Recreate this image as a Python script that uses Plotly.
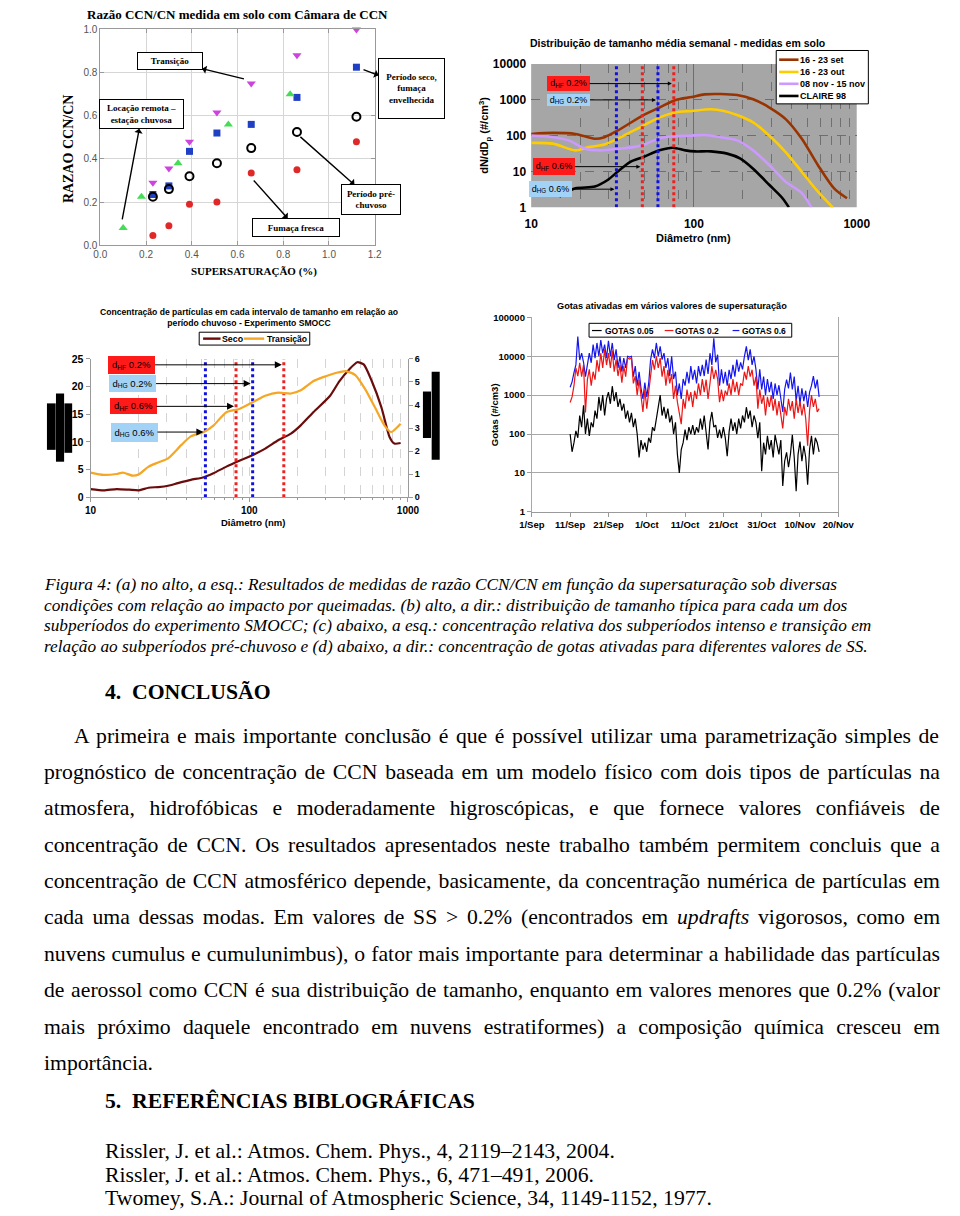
import json
import numpy as np
import pandas as pd
import plotly.graph_objects as go

W, H = 960, 1216
def px(x): return x / W
def py(y): return 1 - y / H

SANS = "Liberation Sans"
SERIF = "Liberation Serif"

# ---------------- (a) CCN/CN ratio vs supersaturation ----------------
ss_transicao = [0.23, 0.30, 0.39, 0.51, 0.66, 0.86, 1.12]
ratio_transicao = [0.29, 0.355, 0.48, 0.615, 0.75, 0.88, 1.0]
ss_seco = [0.23, 0.30, 0.39, 0.51, 0.66, 0.86, 1.12]
ratio_seco = [0.235, 0.275, 0.435, 0.52, 0.56, 0.685, 0.825]
ss_remota = [0.10, 0.18, 0.34, 0.56, 0.83]
ratio_remota = [0.08, 0.225, 0.38, 0.56, 0.70]
ss_prechuvoso = [0.23, 0.30, 0.39, 0.51, 0.66, 0.86, 1.12]
ratio_prechuvoso = [0.225, 0.26, 0.32, 0.38, 0.45, 0.525, 0.595]
ss_fresca = [0.23, 0.30, 0.39, 0.51, 0.66, 0.86, 1.12]
ratio_fresca = [0.045, 0.09, 0.19, 0.20, 0.335, 0.35, 0.48]
a_ticks = [0.0, 0.2, 0.4, 0.6, 0.8, 1.0, 1.2]

# ---------------- (b) weekly mean size distributions ----------------
diam_set = [10, 13.6, 18.7, 24.6, 28.2, 33.9, 48.9, 61.4, 77.3, 97, 116, 146, 184, 231, 291, 366, 460, 578, 726, 871]
dn_set = [112, 120, 112, 82, 91, 138, 376, 611, 995, 1200, 1425, 1455, 1366, 1040, 611, 291, 82, 15, 3.4, 1.8]
diam_out = [10, 13.6, 18.7, 22.5, 28.2, 33.9, 48.9, 61.4, 77, 97, 127, 153, 184, 231, 291, 366, 460, 578, 713]
dn_out = [63, 60, 39, 48, 57, 82, 190, 325, 445, 490, 545, 490, 376, 234, 100, 35, 9.8, 2.75, 1.0]
diam_nov = [10, 13.6, 17, 21.5, 26.9, 33.9, 42.6, 51.2, 61.4, 74, 93, 116, 146, 184, 231, 291, 366, 460, 527]
dn_nov = [101, 91, 74, 43, 39, 43, 48, 60, 85, 97, 100, 105, 91, 74, 39, 15, 5.2, 2.5, 1.0]
diam_claire = [14.9, 18.7, 24.6, 29.5, 33.9, 40.7, 48.9, 61.4, 74, 88.6, 101.5, 127, 160, 193, 231, 291, 350, 383]
dn_claire = [2.0, 3.4, 3.8, 5.8, 9.8, 18.6, 25.5, 39, 46, 39, 36.5, 36.5, 31.6, 23, 12, 4.2, 1.8, 1.0]
b_dHG = [33.4, 60.1]   # 0.6 %, 0.2 %
b_dHF = [48.2, 75.2]   # 0.6 %, 0.2 %
b_xticks = [10, 100, 1000]
b_yticks = [1, 10, 100, 1000, 10000]

# ---------------- (c) relative concentration SMOCC ----------------
seco_diam = [10, 12.1, 14.6, 17.5, 20.2, 23.2, 26.7, 30.8, 35.5, 42.8, 51.7, 59.4, 71.7, 86.6, 104.5,
             126, 152, 183, 211, 254, 322, 370, 426, 479, 526, 591, 680, 765, 821, 899]
seco_val = [1.49, 1.25, 1.49, 1.37, 1.25, 1.73, 1.85, 2.08, 2.56, 3.15, 3.63, 4.35, 5.54, 6.6, 7.6,
            8.8, 10.3, 11.5, 13.0, 15.4, 18.3, 21.0, 23.1, 24.4, 24.0, 21.0, 16.25, 10.9, 9.7, 9.8]
trans_diam = [10, 12.1, 14.6, 16.0, 18.4, 20.2, 23.2, 26.7, 30.8, 37.2, 42.8, 51.7, 59.4, 71.7, 86.6,
              104.5, 126, 152, 183, 211, 254, 292, 355, 405, 466, 537, 619, 712, 783, 899]
trans_val = [1.07, 0.97, 1.01, 1.07, 0.94, 1.0, 1.33, 1.51, 1.69, 2.26, 2.64, 2.83, 3.11, 3.69, 3.83,
             4.11, 4.4, 4.54, 4.5, 4.64, 5.04, 5.21, 5.4, 5.47, 5.3, 4.69, 3.9, 3.11, 2.83, 3.19]
c_dHG = [52.9, 105]
c_dHF = [82.5, 165]
c_yticks_left = [0, 5, 10, 15, 20, 25]
c_yticks_right = [0, 1, 2, 3, 4, 5, 6]

# ---------------- (d) activated droplets time series ----------------
gotas_dates = pd.date_range("2002-09-11", "2002-11-15", freq="12h")
gotas_005 = [
    100, 35, 60, 120, 80, 300, 150, 550, 100, 250,
    90, 200, 150, 400, 250, 900, 400, 1000, 300, 800,
    1200, 600, 1700, 700, 1200, 500, 800, 400, 600, 250,
    400, 200, 350, 150, 250, 100, 25, 70, 40, 60,
    35, 80, 60, 150, 120, 250, 400, 1000, 300, 500,
    250, 450, 200, 300, 100, 200, 30, 10, 40, 60,
    130, 70, 150, 100, 170, 95, 150, 110, 250, 130,
    300, 120, 40, 200, 370, 150, 170, 80, 130, 78,
    150, 80, 27, 115, 250, 120, 200, 100, 250, 140,
    300, 200, 490, 250, 400, 150, 300, 200, 78, 200,
    11, 60, 30, 90, 40, 70, 25, 95, 50, 30,
    70, 4.6, 20, 34, 14, 30, 95, 25, 3.4, 30,
    64, 20, 50, 25, 5, 40, 90, 30, 80, 60,
    35]
gotas_02 = [
    650, 900, 1750, 5000, 3100, 6800, 3000, 6000, 360, 2500,
    4600, 1750, 4000, 2500, 8000, 4000, 12000, 5000, 15000, 6000,
    12000, 5000, 14000, 4000, 8200, 3100, 6000, 2100, 5600, 3000,
    9000, 8500, 9000, 2000, 3100, 1000, 2500, 900, 370, 1400,
    450, 1200, 3800, 8000, 4500, 10000, 5000, 9000, 3000, 5600,
    1750, 4500, 2000, 3500, 800, 1750, 660, 300, 180, 800,
    450, 1400, 700, 1200, 500, 1300, 800, 2000, 1000, 2600,
    1200, 2500, 800, 2000, 5600, 2600, 4500, 2600, 660, 1400,
    700, 1300, 1000, 2000, 1000, 2600, 1200, 2200, 1000, 2000,
    1750, 4000, 2500, 5600, 3000, 4500, 1750, 3000, 450, 1400,
    600, 1000, 300, 900, 500, 1000, 400, 800, 300, 700,
    350, 140, 500, 300, 800, 400, 700, 250, 800, 350,
    700, 300, 600, 250, 50, 400, 1000, 500, 800, 370,
    450]
gotas_06 = [
    1600, 2200, 3800, 6000, 32000, 8000, 12000, 7000, 3000, 7000,
    12000, 6800, 20000, 9000, 22000, 10000, 26000, 12000, 20000, 9000,
    25000, 10000, 22000, 8000, 15000, 5000, 10000, 4000, 9000, 5000,
    10000, 9500, 10000, 3000, 5600, 1750, 4000, 1500, 800, 2100,
    900, 2000, 8200, 15000, 9000, 22000, 10000, 18000, 8200, 12000,
    5000, 9000, 3100, 10000, 2600, 4000, 1000, 2000, 800, 2600,
    1750, 4000, 2000, 5600, 2500, 4500, 2000, 5600, 3100, 6000,
    3100, 8200, 3500, 12000, 6000, 29000, 7000, 11000, 1750, 4600,
    2000, 4000, 1750, 4500, 2600, 6000, 3000, 8200, 4000, 7000,
    4600, 10000, 18000, 8000, 15000, 6000, 10000, 4600, 1400, 4600,
    1400, 3000, 1000, 2600, 1200, 2200, 800, 2000, 1000, 1800,
    900, 370, 1400, 2500, 1500, 3800, 1400, 3000, 700, 1750,
    600, 1500, 700, 1300, 500, 1200, 1750, 3100, 1500, 2500,
    900]
d_xticks = ["2002-09-01", "2002-09-11", "2002-09-21", "2002-10-01", "2002-10-11",
            "2002-10-21", "2002-10-31", "2002-11-10", "2002-11-20"]
d_yticks = [1, 10, 100, 1000, 10000, 100000]

n = min(len(gotas_dates), len(gotas_005), len(gotas_02), len(gotas_06))
dates = list(gotas_dates[:n].strftime("%Y-%m-%d %H:%M"))

fig = go.Figure()

# ---- traces (a)
def mk(x, y, sym, color, size=8, open_=False, name=""):
    m = dict(symbol=sym, size=size, color=color)
    if open_:
        m = dict(symbol="circle-open", size=size, color="black", line=dict(width=2, color="black"))
    fig.add_trace(go.Scatter(x=x, y=y, mode="markers", marker=m, xaxis="x", yaxis="y",
                             cliponaxis=False, name=name, showlegend=False))
mk(ss_transicao, ratio_transicao, "triangle-down", "#cc44dd", name="Transição")
mk(ss_seco, ratio_seco, "square", "#1f3fc4", size=7, name="Período seco")
mk(ss_remota, ratio_remota, "triangle-up", "#44dd55", name="Locação remota")
mk(ss_prechuvoso, ratio_prechuvoso, "circle-open", "black", open_=True, name="Período pré-chuvoso")
mk(ss_fresca, ratio_fresca, "circle", "#e02828", size=7, name="Fumaça fresca")

# ---- traces (b)
b_series = [(diam_set, dn_set, "#993300", "16 - 23 set"),
            (diam_out, dn_out, "#ffcc00", "16 - 23 out"),
            (diam_nov, dn_nov, "#cc99ff", "08 nov - 15 nov"),
            (diam_claire, dn_claire, "#000000", "CLAIRE 98")]
for xs, ys, col, nm in b_series:
    fig.add_trace(go.Scatter(x=xs, y=ys, mode="lines", line=dict(color=col, width=2.6, shape="spline", smoothing=0.8),
                             xaxis="x2", yaxis="y2", name=nm, showlegend=False))
for d in b_dHG:
    fig.add_trace(go.Scatter(x=[d, d], y=[1, 10000], mode="lines", line=dict(color="#1010e0", width=3, dash="dot"),
                             xaxis="x2", yaxis="y2", showlegend=False))
for d in b_dHF:
    fig.add_trace(go.Scatter(x=[d, d], y=[1, 10000], mode="lines", line=dict(color="#ee2020", width=3, dash="dot"),
                             xaxis="x2", yaxis="y2", showlegend=False))

# ---- traces (c)
fig.add_trace(go.Scatter(x=seco_diam, y=seco_val, mode="lines", line=dict(color="#6b0c0c", width=2.2, shape="spline", smoothing=0.6),
                         xaxis="x3", yaxis="y3", name="Seco", showlegend=False))
for d in c_dHG:
    fig.add_trace(go.Scatter(x=[d, d], y=[0, 25], mode="lines", line=dict(color="#1010e0", width=3, dash="dot"),
                             xaxis="x3", yaxis="y3", showlegend=False))
for d in c_dHF:
    fig.add_trace(go.Scatter(x=[d, d], y=[0, 25], mode="lines", line=dict(color="#ee2020", width=3, dash="dot"),
                             xaxis="x3", yaxis="y3", showlegend=False))
fig.add_trace(go.Scatter(x=trans_diam, y=trans_val, mode="lines", line=dict(color="#f5a623", width=2.2, shape="spline", smoothing=0.6),
                         xaxis="x3", yaxis="y4", name="Transição", showlegend=False))

# ---- traces (d)
fig.add_trace(go.Scatter(x=dates, y=gotas_06[:n], mode="lines", line=dict(color="#1515ee", width=1.2),
                         xaxis="x4", yaxis="y5", name="GOTAS 0.6", showlegend=False))
fig.add_trace(go.Scatter(x=dates, y=gotas_02[:n], mode="lines", line=dict(color="#ee1515", width=1.2),
                         xaxis="x4", yaxis="y5", name="GOTAS 0.2", showlegend=False))
fig.add_trace(go.Scatter(x=dates, y=gotas_005[:n], mode="lines", line=dict(color="#000000", width=1.2),
                         xaxis="x4", yaxis="y5", name="GOTAS 0.05", showlegend=False))

# ---------------- axes ----------------
def decade_minors(lo, hi):
    out = []
    for e in range(lo, hi):
        for k in range(2, 10):
            out.append(k * 10 ** e)
    return out

tick_a = dict(family=SANS, size=10, color="#555555")
fig.update_layout(
    xaxis=dict(domain=[px(90), px(373)], anchor="y", range=[0, 1.2], tickmode="array", tickvals=a_ticks,
               ticktext=[f"{v:.1f}" for v in a_ticks], showgrid=True, gridcolor="#d6d6d6", zeroline=False,
               showline=True, linecolor="#999999", mirror="ticks", ticks="inside", ticklen=4, tickcolor="#999999",
               tickfont=tick_a),
    yaxis=dict(domain=[py(241), py(22.7)], anchor="x", range=[0, 1.0], tickmode="array", tickvals=a_ticks[:6],
               ticktext=[f"{v:.1f}" for v in a_ticks[:6]], showgrid=True, gridcolor="#d6d6d6", zeroline=False,
               showline=True, linecolor="#999999", mirror="ticks", ticks="inside", ticklen=4, tickcolor="#999999",
               tickfont=tick_a),
    xaxis2=dict(domain=[px(534.3), px(870)], anchor="y2", type="log", range=[1, 3], tickmode="array",
                tickvals=b_xticks, ticktext=[str(v) for v in b_xticks], showgrid=True, gridcolor="#6e6e6e",
                gridwidth=1, zeroline=False, showline=False, ticklabelstandoff=8,
                minor=dict(tickmode="array", tickvals=decade_minors(1, 3), showgrid=True, gridcolor="#707070",
                           griddash="dash", gridwidth=1),
                tickfont=dict(family=SANS, size=12, color="black", weight="bold")),
    yaxis2=dict(domain=[py(202.7), py(57.7)], anchor="x2", type="log", range=[0, 4], tickmode="array",
                tickvals=b_yticks, ticktext=[str(v) for v in b_yticks], showgrid=True, gridcolor="#6e6e6e",
                griddash="dash", zeroline=False, showline=False, ticklabelstandoff=4,
                tickfont=dict(family=SANS, size=12, color="black", weight="bold")),
    xaxis3=dict(domain=[px(80), px(407.3)], anchor="y3", type="log", range=[1, 3], tickmode="array",
                tickvals=[10, 100, 1000], ticktext=["10", "100", "1000"], showgrid=True, gridcolor="#d4d4d4",
                griddash="dash", zeroline=False, showline=True, linecolor="#9a9a9a", ticks="outside", ticklen=4,
                tickcolor="#9a9a9a",
                minor=dict(tickmode="array", tickvals=decade_minors(1, 3), showgrid=True, gridcolor="#d4d4d4",
                           griddash="dash", ticks="outside", ticklen=2, tickcolor="#9a9a9a"),
                tickfont=dict(family=SANS, size=10, color="black", weight="bold")),
    yaxis3=dict(domain=[py(496), py(356)], anchor="x3", range=[0, 25], tickmode="array", tickvals=c_yticks_left,
                ticktext=[str(v) for v in c_yticks_left], showgrid=False, zeroline=False, showline=True,
                linecolor="#9a9a9a", ticks="outside", ticklen=4, tickcolor="#9a9a9a",
                tickfont=dict(family=SANS, size=10.5, color="black", weight="bold")),
    yaxis4=dict(overlaying="y3", side="right", anchor="x3", range=[0, 6], tickmode="array", tickvals=c_yticks_right,
                ticktext=[str(v) for v in c_yticks_right], showgrid=False, zeroline=False, showline=True,
                linecolor="#9a9a9a", ticks="outside", ticklen=4, tickcolor="#9a9a9a",
                tickfont=dict(family=SANS, size=9, color="black", weight="bold")),
    xaxis4=dict(domain=[px(535), px(851)], anchor="y5", type="date", range=[d_xticks[0], d_xticks[-1]],
                tickmode="array", tickvals=d_xticks, tickformat="%-d/%b", showgrid=False, zeroline=False,
                showline=True, linecolor="#9a9a9a", ticks="outside", ticklen=4, tickcolor="#9a9a9a",
                tickfont=dict(family=SANS, size=9.5, color="black", weight="bold")),
    yaxis5=dict(domain=[py(510.7), py(314)], anchor="x4", type="log", range=[0, 5], tickmode="array",
                tickvals=d_yticks, ticktext=[str(v) for v in d_yticks], showgrid=True, gridcolor="#a8a8a8",
                zeroline=False, showline=True, mirror=True, linecolor="#a8a8a8", ticks="outside", ticklen=4,
                tickcolor="#9a9a9a", tickfont=dict(family=SANS, size=9.5, color="black", weight="bold")),
)

# ---------------- shapes ----------------
shapes = []
shapes.append(dict(type="rect", xref="x2 domain", yref="y2 domain", x0=0, x1=1, y0=0, y1=1,
                   fillcolor="#a6a6a6", line=dict(width=0), layer="below"))

def prect(x0, y0, x1, y1, fill, lc="black", lw=1, layer="above"):
    shapes.append(dict(type="rect", xref="paper", yref="paper", x0=px(x0), x1=px(x1), y0=py(y1), y1=py(y0),
                       fillcolor=fill, line=dict(color=lc, width=lw), layer=layer))

def pline(x0, x1, y, color, w):
    shapes.append(dict(type="line", xref="paper", yref="paper", x0=px(x0), x1=px(x1), y0=py(y), y1=py(y),
                       line=dict(color=color, width=w), layer="above"))

# black bars beside (c)
for (x0, y0, x1, y1) in [(35, 401, 44, 448), (44.3, 391, 52.7, 460), (53, 401, 61, 451),
                         (422.7, 389, 431, 436), (431.7, 369, 440, 458)]:
    prect(x0, y0, x1, y1, "black", lc="black", lw=0)

# legend (b)
prect(787, 44, 882, 98, "white", lw=1)
b_leg_y = [53.3, 65.7, 77.7, 90]
for (xs, ys, col, nm), yy in zip(b_series, b_leg_y):
    pline(790, 810, yy, col, 2.6)
# legend (c)
prect(192, 329, 306, 342, "white", lw=1)
pline(196, 214, 335.5, "#6b0c0c", 2.4)
pline(238, 259, 335.5, "#f5a623", 2.4)
# legend (d)
prect(594, 320, 803, 334, "white", lw=1)
pline(597, 607, 327.3, "#000000", 1.2)
pline(672, 681, 327.3, "#ee1515", 1.2)
pline(742, 749, 327.3, "#1515ee", 1.2)

# ---------------- annotations ----------------
ann = []
def text(x, y, s, size, family=SANS, bold=False, italic=False, color="black", xanchor="center",
         yanchor="middle", angle=0, **kw):
    d = dict(x=px(x), y=py(y), xref="paper", yref="paper", text=s, showarrow=False,
             font=dict(family=family, size=size, color=color, weight="bold" if bold else "normal",
                       style="italic" if italic else "normal"),
             xanchor=xanchor, yanchor=yanchor, textangle=angle, borderpad=0, borderwidth=0)
    d.update(kw)
    ann.append(d)
    return len(ann) - 1

# (a) texts
text(232, 8, "Razão CCN/CN medida em solo com Câmara de CCN", 13, family=SERIF, bold=True)
text(58, 143.5, "RAZAO CCN/CN", 14, family=SERIF, bold=True, angle=-90)
text(248.5, 268, "SUPERSATURAÇÃO (%)", 11, family=SERIF, bold=True)

def a_px2data(xp, yp):
    return (xp - 90) / 283.0 * 1.2, (241 - yp) / 218.3

# labelled boxes with arrows pointing from a marker towards the box
a_boxes = [
    ("Transição", 161.5, 54.5, 64, 16, (0.628, 0.771)),
    ("Locação remota –<br>estação chuvosa", 133, 108.5, 83, 28, (0.096, 0.120)),
    ("Período seco,<br>fumaça<br>envelhecida", 411, 82, 65, 59, (1.151, 0.814)),
    ("Período pré-<br>chuvoso", 369.5, 195, 58, 29, (0.875, 0.502)),
    ("Fumaça fresca", 291.5, 223, 86, 17, (0.671, 0.300)),
]
for s, xc, yc, w, h, (tx, ty) in a_boxes:
    bx, by = a_px2data(xc, yc)
    ann.append(dict(x=tx, y=ty, xref="x", yref="y", ax=bx, ay=by, axref="x", ayref="y", text=s,
                    showarrow=True, arrowside="start", arrowhead=2, arrowsize=1, arrowwidth=1.4,
                    arrowcolor="black", standoff=0, startstandoff=0,
                    font=dict(family=SERIF, size=9, color="black", weight="bold"), bgcolor="white",
                    bordercolor="black", borderwidth=1, borderpad=0, width=w, height=h, align="center",
                    valign="middle"))

# (b) texts
text(685, 36, "Distribuição de tamanho média semanal - medidas em solo", 10.5, bold=True)
text(486, 130, "dN/dD<sub>p</sub> (#/cm<sup>3</sup>)", 11, bold=True, angle=-90)
text(702, 234, "Diâmetro (nm)", 11, bold=True)
for (nm, yy) in zip([s[3] for s in b_series], b_leg_y):
    text(812, yy, nm, 9, bold=True, xanchor="left")

RED_BG, BLUE_BG = "#ff1a1a", "#a3d2f7"
def b_head(d): return 534.3 + (np.log10(d) - 1) / 2 * 335.7
def c_head(d): return 80 + (np.log10(d) - 1) / 2 * 327.3

def arrow_label(axis, d, headfn, xc, yc, w, h, s, bg, size, asize):
    hx = headfn(d)
    ann.append(dict(x=float(np.log10(d)), y=py(yc), xref=axis, yref="paper", ax=xc - hx, ay=0,
                    axref="pixel", ayref="pixel", text=s, showarrow=True, arrowhead=2, arrowsize=asize,
                    arrowwidth=1, arrowcolor="black", standoff=2,
                    font=dict(family=SANS, size=size, color="black"), bgcolor=bg, borderwidth=0, borderpad=0,
                    width=w, height=h, align="center", valign="middle"))

arrow_label("x2", b_dHF[1], b_head, 575.7, 77.5, 43, 15, "d<sub>HF</sub> 0.2%", RED_BG, 9, 0.8)
arrow_label("x2", b_dHG[1], b_head, 575.7, 94, 43, 12, "d<sub>HG</sub> 0.2%", BLUE_BG, 9, 0.8)
arrow_label("x2", b_dHF[0], b_head, 560.5, 161.5, 42, 17, "d<sub>HF</sub> 0.6%", RED_BG, 9, 0.8)
arrow_label("x2", b_dHG[0], b_head, 556.3, 184.3, 43, 16, "d<sub>HG</sub> 0.6%", BLUE_BG, 9, 0.8)

# (c) texts
text(243, 314.5, "Concentração de partículas em cada intervalo de tamanho em relação ao<br>período chuvoso - Experimento SMOCC",
     8.6, bold=True)
text(247, 522, "Diâmetro (nm)", 9.5, bold=True)
text(216, 335.5, "Seco", 8.8, bold=True, xanchor="left")
text(261.5, 335.5, "Transição", 8.6, bold=True, xanchor="left")
arrow_label("x3", c_dHF[1], c_head, 127, 362, 47, 18, "d<sub>HF</sub> 0.2%", RED_BG, 9.5, 1.4)
arrow_label("x3", c_dHG[1], c_head, 127, 381, 47, 17, "d<sub>HG</sub> 0.2%", BLUE_BG, 9.5, 1.4)
arrow_label("x3", c_dHF[0], c_head, 127, 404, 47, 16, "d<sub>HF</sub> 0.6%", RED_BG, 9.5, 1.4)
arrow_label("x3", c_dHG[0], c_head, 127, 430, 47, 19, "d<sub>HG</sub> 0.6%", BLUE_BG, 9.5, 1.4)

# (d) texts
text(680, 302, "Gotas ativadas em vários valores de supersaturação", 9.2, bold=True)
text(496, 413, "Gotas (#/cm3)", 9.5, bold=True, angle=-90)
text(610, 327.3, "GOTAS 0.05", 8.5, bold=True, xanchor="left")
text(683, 327.3, "GOTAS 0.2", 8.5, bold=True, xanchor="left")
text(752, 327.3, "GOTAS 0.6", 8.5, bold=True, xanchor="left")

# ---------------- page text ----------------
caption_lines = [
    "Figura 4: (a) no alto, a esq.: Resultados de medidas de razão CCN/CN em função da supersaturação sob diversas",
    "condições com relação ao impacto por queimadas. (b) alto, a dir.: distribuição de tamanho típica para cada um dos",
    "subperíodos do experimento SMOCC; (c) abaixo, a esq.: concentração relativa dos subperíodos intenso e transição em",
    "relação ao subperíodos pré-chuvoso e (d) abaixo, a dir.: concentração de gotas ativadas para diferentes valores de SS.",
]
caption_y = [584, 605, 626, 647]
for s, yy in zip(caption_lines, caption_y):
    text(32, yy, s, 17.3, family=SERIF, italic=True, xanchor="left", align="left")

body_lines = [
    "A primeira e mais importante conclusão é que é possível utilizar uma parametrização simples de",
    "prognóstico de concentração de CCN baseada em um modelo físico com dois tipos de partículas na",
    "atmosfera, hidrofóbicas e moderadamente higroscópicas, e que fornece valores confiáveis de",
    "concentração de CCN. Os resultados apresentados neste trabalho também permitem concluis que a",
    "concentração de CCN atmosférico depende, basicamente, da concentração numérica de partículas em",
    "cada uma dessas modas. Em valores de SS &gt; 0.2% (encontrados em <i>updrafts</i> vigorosos, como em",
    "nuvens cumulus e cumulunimbus), o fator mais importante para determinar a habilidade das partículas",
    "de aerossol como CCN é sua distribuição de tamanho, enquanto em valores menores que 0.2% (valor",
    "mais próximo daquele encontrado em nuvens estratiformes) a composição química cresceu em",
    "importância.",
]
FS_BODY = 21.7
body_y0, body_dy = 737, 36.8
X_RIGHT = 928
justify_spec = []
for i, line in enumerate(body_lines):
    x0 = 63 if i == 0 else 32
    idx = text(x0, body_y0 + i * body_dy, line, FS_BODY, family=SERIF, xanchor="left", align="left")
    if i < len(body_lines) - 1:
        justify_spec.append([idx, X_RIGHT - x0])

text(95, 693, "4.", FS_BODY, family=SERIF, bold=True, xanchor="left")
text(123, 693, "CONCLUSÃO", FS_BODY, family=SERIF, bold=True, xanchor="left")
text(95, 1107, "5.", FS_BODY, family=SERIF, bold=True, xanchor="left")
text(123, 1107, "REFERÊNCIAS BIBLOGRÁFICAS", FS_BODY, family=SERIF, bold=True, xanchor="left")

refs = [
    "Rissler, J. et al.: Atmos. Chem. Phys., 4, 2119–2143, 2004.",
    "Rissler, J. et al.: Atmos. Chem. Phys., 6, 471–491, 2006.",
    "Twomey, S.A.: Journal of Atmospheric Science, 34, 1149-1152, 1977.",
]
for s, yy in zip(refs, [1157, 1182, 1205]):
    text(95, yy, s, FS_BODY, family=SERIF, xanchor="left", align="left")

fig.update_layout(width=W, height=H, margin=dict(l=0, r=0, t=0, b=0), paper_bgcolor="white",
                  plot_bgcolor="rgba(0,0,0,0)", showlegend=False, shapes=shapes, annotations=ann,
                  font=dict(family=SANS))

# page setup (no body margin) and justification of the paragraph lines (word spacing)
post_js = """
document.body.style.margin = '0';
document.body.style.overflow = 'hidden';
var gd = document.getElementById('{plot_id}');
var spec = SPEC;
spec.forEach(function(s) {
  var g = gd.querySelector('g.annotation[data-index="' + s[0] + '"]');
  if (!g) return;
  var t = g.querySelector('text.annotation-text');
  if (!t) return;
  t.style.wordSpacing = '0px';
  var w = t.getComputedTextLength();
  var m = t.textContent.match(/[ \\u00a0]/g);
  var k = m ? m.length : 0;
  if (k > 0) { t.style.wordSpacing = ((s[1] - w) / k) + 'px'; }
});
""".replace("SPEC", json.dumps(justify_spec))

fig.write_html("out.html", post_script=post_js, config={"displayModeBar": False})
